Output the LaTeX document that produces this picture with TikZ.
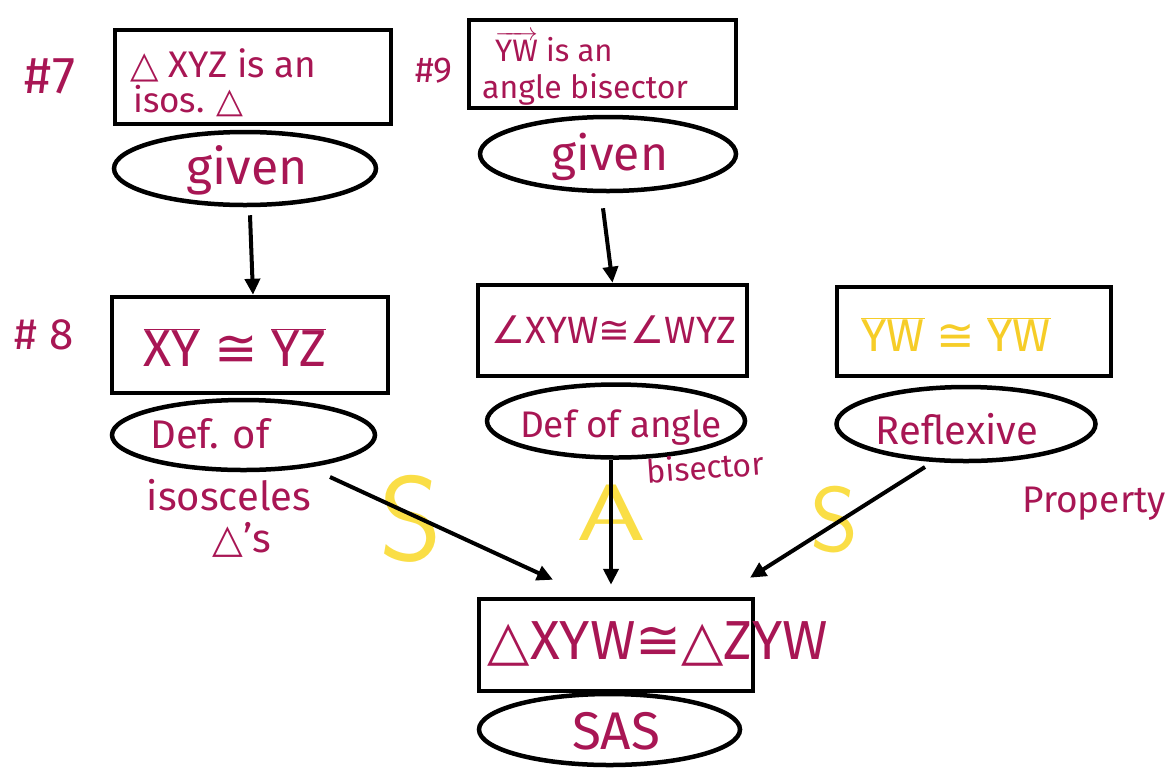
\documentclass[tikz,border=0pt]{standalone}
\usepackage{fontspec}
\setmainfont{Fira Sans}
\newfontfamily\sym{DejaVu Sans}
\usetikzlibrary{shapes.geometric,arrows.meta,calc}
\definecolor{ink}{RGB}{168,22,84}
\definecolor{hl}{RGB}{246,205,40}
\definecolor{hlS}{RGB}{250,222,70}
\newcommand{\fs}[1]{\fontsize{#1}{#1}\selectfont}
\newcommand{\seg}[1]{$\overline{\hbox{#1}}$}
\newcommand{\ray}[1]{$\overrightarrow{\hbox{#1}}$}
\tikzset{
  stmt/.style={draw, rectangle, line width=4.5pt, inner sep=0pt},
  reason/.style={draw, ellipse, line width=4.5pt, inner sep=0pt},
  txt/.style={text=ink, inner sep=0pt},
  flow/.style={line width=4pt, -{Triangle[length=16pt,width=15pt]}},
  big/.style={text=hlS, inner sep=0pt, font=\sffamily\fs{120}}
}
\begin{document}
\begin{tikzpicture}[x=1pt,y=-1pt]
\useasboundingbox (0,0) rectangle (1174,769);
% statement boxes
\node[stmt, minimum width=276pt, minimum height=94pt] (b7) at (253,77) {};
\node[stmt, minimum width=267pt, minimum height=88pt] (b9) at (602.5,64) {};
\node[stmt, minimum width=276pt, minimum height=96pt] (b8) at (250,345) {};
\node[stmt, minimum width=269pt, minimum height=91pt] (bang) at (612.5,330.5) {};
\node[stmt, minimum width=274pt, minimum height=89pt] (brefl) at (974,331.5) {};
\node[stmt, minimum width=274pt, minimum height=92pt] (bfin) at (616,645) {};
% reason ellipses
\node[reason, minimum width=262pt, minimum height=73pt] (g7) at (245,168.5) {};
\node[reason, minimum width=256pt, minimum height=74pt] (g9) at (608,154) {};
\node[reason, minimum width=263pt, minimum height=70pt] (e8) at (243.5,435) {};
\node[reason, minimum width=258pt, minimum height=73pt] (eang) at (616,421) {};
\node[reason, minimum width=259pt, minimum height=74pt] (erefl) at (966,424) {};
\node[reason, minimum width=261pt, minimum height=71pt] (esas) at (609.5,729.5) {};
% numbers
\node[txt, anchor=base, font=\fs{52}] (n7) at (50,93) {\#7};
\node[txt, anchor=base, font=\fs{36}] (n9) at (434,82) {\#9};
\node[txt, anchor=base, font=\fs{44}] (n8) at (44,349) {\# 8};
% texts in boxes
\node[txt, anchor=base west, font=\fs{37}] (t7a) at (130,77) {{\sym △} XYZ is an};
\node[txt, anchor=base west, font=\fs{35}] (t7b) at (133,112) {isos. {\sym △}};
\node[txt, anchor=base west, font=\fs{31}] (t9a) at (495,61) {\ray{YW} is an};
\node[txt, anchor=base west, font=\fs{32}] (t9b) at (482,98) {angle bisector};
\node[txt, anchor=base, font=\fs{52}] (t8) at (235,366) {\seg{XY} {\sym ≅} \seg{YZ}};
\node[txt, anchor=base, font=\fs{38}] (tang) at (614,343) {{\sym ∠}XYW{\sym ≅}{\sym ∠}WYZ};
\node[txt, anchor=base, font=\fs{46}, text=hl] (trefl) at (956,351) {\seg{YW} {\sym ≅} \seg{YW}};
\node[txt, anchor=base, font=\fs{55}] (tfin) at (658,659) {{\sym △}XYW{\sym ≅}{\sym △}ZYW};
% texts of reasons
\node[txt, anchor=base, font=\fs{50}] (tg7) at (247,184) {given};
\node[txt, anchor=base, font=\fs{48}] (tg9) at (610,170) {given};
\node[txt, anchor=base, font=\fs{40}] (te8a) at (210,448) {Def. of};
\node[txt, anchor=base, font=\fs{40}] (te8b) at (229,510) {isosceles};
\node[txt, anchor=base, font=\fs{40}] (te8c) at (242,552) {{\sym △}'s};
\node[txt, anchor=base, font=\fs{37}] (teang) at (621,437) {Def of angle};
\node[txt, anchor=base, font=\fs{32}, rotate=4] (teang2) at (706,479) {bisector};
\node[txt, anchor=base, font=\fs{40}] (terefl) at (957,444) {Reflexive};
\node[txt, anchor=base, font=\fs{37}] (terefl2) at (1094,512) {Property};
\node[txt, anchor=base, font=\fs{53}] (tsas) at (616,749) {SAS};
% yellow S A S
\node[big, anchor=base] (s1) at (411,560) {S};
\node[big, anchor=base, font=\sffamily\fs{80}, xscale=1.4] (a1) at (611,540) {A};
\node[big, anchor=base, font=\sffamily\fs{92}] (s2) at (834,551) {S};
% connectors
\draw[flow] ($(g7.south)+(5,8)$) -- ($(b8.north)+(3,0)$);
\draw[flow] ($(g9.south)+(-5,15)$) -- (bang.north);
\draw[flow] ($(e8.center)+(86.5,42)$) -- ($(bfin.north)+(-63,-17)$);
\draw[flow] ($(eang.south)+(-5,0)$) -- ($(bfin.north)+(-5,-12)$);
\draw[flow] ($(erefl.center)+(-41,43)$) -- ($(bfin.north)+(134,-19)$);
\end{tikzpicture}
\end{document}
